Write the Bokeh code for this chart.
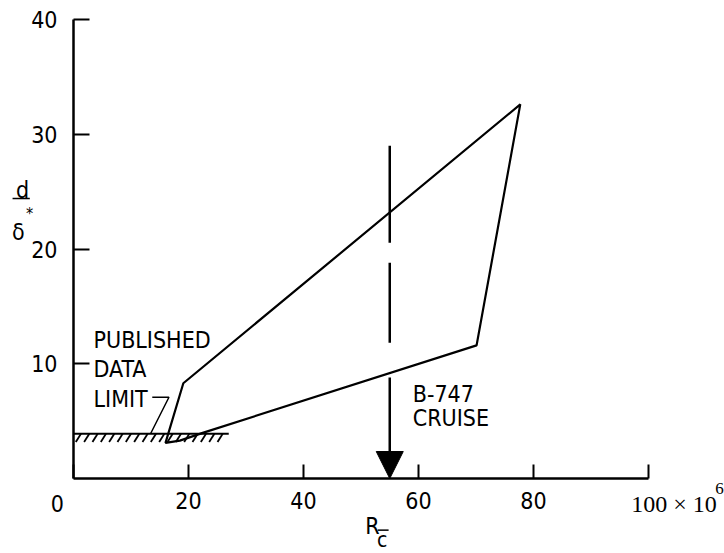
import numpy as np
from bokeh.plotting import figure
from bokeh.models import Range1d, Arrow, NormalHead, FixedTicker
from bokeh.core.properties import value
from bokeh.embed import file_html
from bokeh.resources import INLINE

# ---- data ----
x_ticks = [0, 20, 40, 60, 80, 100]
y_ticks = [10, 20, 30, 40]
y_tick_labels = {10: "10", 20: "20", 30: "30", 40: "40"}

# envelope of test conditions (R_c in millions, d/delta*)
env_x = [16.0, 19.1, 77.7, 70.1, 22.6, 18.5]
env_y = [3.1, 8.3, 32.6, 11.6, 4.0, 3.3]

# published data limit
limit_y = 3.9
limit_x = [0, 27]
leader_x = [13.7, 16.6, 13.4]
leader_y = [7.08, 7.08, 3.9]

# B-747 cruise
cruise_x = 55
cruise_top = 29.0
cruise_dash_end = 8.8

SANS = "DejaVu Sans Condensed"
SERIF = "Liberation Serif"

p = figure(width=724, height=553,
           x_range=Range1d(0, 100), y_range=Range1d(0, 40),
           output_backend="svg", toolbar_location=None,
           min_border_left=73, min_border_right=76,
           min_border_top=19, min_border_bottom=75)
p.outline_line_color = None
p.grid.visible = False
p.background_fill_color = "white"

# axes
for ax in (p.xaxis[0], p.yaxis[0]):
    ax.axis_line_width = 2.5
    ax.axis_line_color = "black"
    ax.major_tick_line_width = 2
    ax.major_tick_line_color = "black"
    ax.major_tick_out = 0
    ax.minor_tick_line_color = None
    ax.major_label_text_font = SANS
    ax.major_label_text_font_size = "23px"
    ax.major_label_text_color = "black"

p.xaxis.ticker = FixedTicker(ticks=x_ticks)
p.xaxis.major_tick_in = 14
p.xaxis.major_label_standoff = 13
p.xaxis.major_label_overrides = {0: "", 100: ""}

p.yaxis.ticker = FixedTicker(ticks=y_ticks)
p.yaxis.major_tick_in = 16
p.yaxis.major_label_standoff = 16
p.yaxis.major_label_overrides = y_tick_labels

# envelope polygon
p.patch(env_x, env_y, fill_color=None, line_color="black", line_width=2.2)

# published data limit line + hatching
p.line(limit_x, [limit_y, limit_y], line_color="black", line_width=2)
hx = np.arange(1.3, limit_x[1], 1.45)
p.segment(x0=hx, y0=[limit_y] * len(hx), x1=hx - 0.9, y1=[limit_y - 0.72] * len(hx),
          line_color="black", line_width=1.8)
p.line(leader_x, leader_y, line_color="black", line_width=1.5)

# B-747 cruise line and arrow
p.line([cruise_x, cruise_x], [cruise_top, cruise_dash_end], line_color="black",
       line_width=2.5, line_dash="97 20 80 35")
p.add_layout(Arrow(x_start=cruise_x, y_start=cruise_dash_end, x_end=cruise_x, y_end=0,
                   line_color="black", line_width=2.5,
                   end=NormalHead(size=27, fill_color="black", line_color="black", line_width=1)))


def txt(x, y, t, size="23px", font=SANS, align="left"):
    p.text(x=[x], y=[y], text=[t], text_font=value(font), text_font_size=value(size),
           text_color="black", text_align=align, text_baseline="middle", level="overlay")


txt(3.48, 12.03, "PUBLISHED")
txt(3.48, 9.5, "DATA")
txt(3.48, 6.9, "LIMIT")
txt(59.0, 7.4, "B-747")
txt(59.0, 5.3, "CRUISE")

# special x tick labels
txt(-2.8, -2.2, "0", align="center")
txt(97.0, -2.2, "100 \u00d7 10", size="24px", font=SERIF)
txt(111.6, -0.9, "6", size="17px", font=SERIF)

# x axis label: R with subscript c-bar
txt(52.0, -4.1, "R", align="center")
txt(53.7, -5.35, "c", size="21px", align="center")
p.line([52.9, 54.8], [-4.5, -4.5], line_color="black", line_width=1.5, level="overlay")

# y axis label: d / delta*
txt(-8.87, 25.1, "d", align="center")
p.line([-10.6, -7.6], [24.4, 24.4], line_color="black", line_width=1.5, level="overlay")
txt(-9.6, 21.5, "\u03b4", align="center")
txt(-7.65, 23.1, "*", size="16px", align="center")

open("out.html", "w").write(file_html(p, INLINE))
